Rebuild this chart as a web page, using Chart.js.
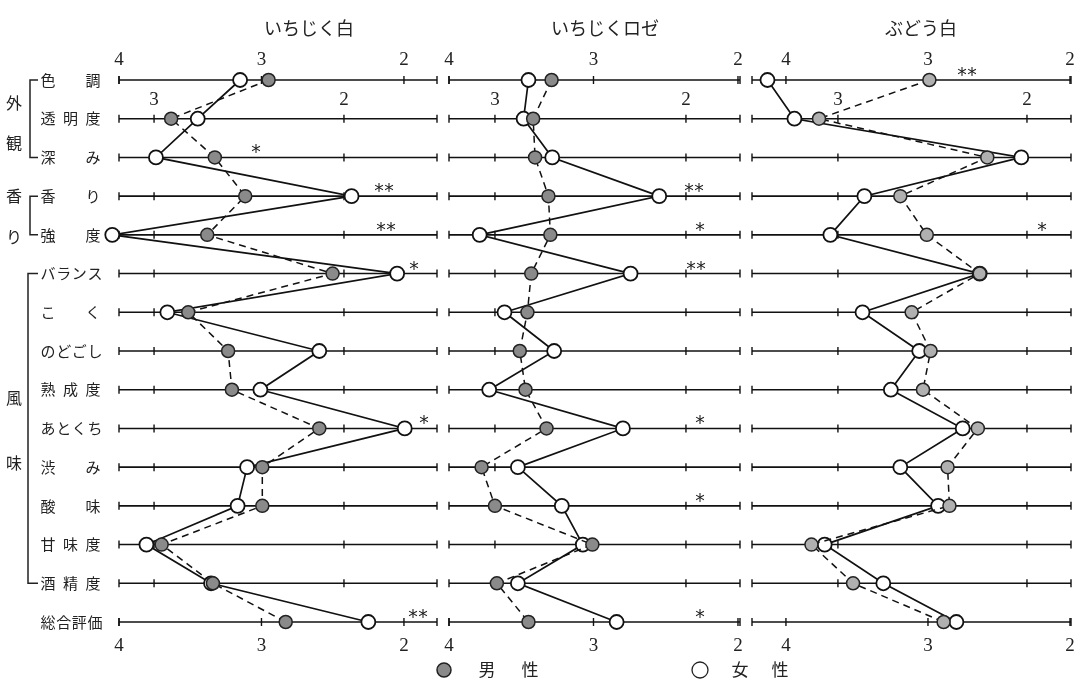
<!DOCTYPE html>
<html>
<head>
<meta charset="utf-8">
<script src="https://cdn.jsdelivr.net/npm/chart.js@4"></script>
<style>
body{margin:0;background:#fff;}
#wrap{position:relative;width:1083px;height:686px;}
#wrap canvas{position:absolute;left:0;top:0;}
</style>
</head>
<body>
<div id="wrap">
<canvas id="c0" width="1083" height="686"></canvas>
<canvas id="c1" width="1083" height="686"></canvas>
<canvas id="c2" width="1083" height="686"></canvas>
</div>
<script>
// 評価項目
var rowLabels = ['色調','透明度','深み','香り','強度','バランス','こく','のどごし','熟成度','あとくち','渋み','酸味','甘味度','酒精度','総合評価'];
var wines = ['いちじく白','いちじくロゼ','ぶどう白'];

// 1行目と最終行は外側の目盛(4〜2)、その他の行は内側の目盛(3〜2)で読んだ値
var male1   = [2.95, 2.91, 2.68, 2.52, 2.72, 2.06, 2.82, 2.61, 2.59, 2.13, 2.43, 2.43, 2.96, 2.69, 2.83];
var female1 = [3.15, 2.77, 2.99, 1.96, 3.22, 1.72, 2.93, 2.13, 2.44, 1.68, 2.51, 2.56, 3.04, 2.70, 2.25];
var male2   = [3.29, 2.80, 2.79, 2.72, 2.71, 2.81, 2.83, 2.87, 2.84, 2.73, 3.07, 3.00, 2.49, 2.99, 3.45];
var female2 = [3.45, 2.85, 2.70, 2.14, 3.08, 2.29, 2.95, 2.69, 3.03, 2.33, 2.88, 2.65, 2.54, 2.88, 2.84];
var male3   = [2.99, 3.10, 2.21, 2.67, 2.53, 2.25, 2.61, 2.51, 2.55, 2.26, 2.42, 2.41, 3.14, 2.92, 2.89];
var female3 = [4.13, 3.23, 2.03, 2.86, 3.04, 2.25, 2.87, 2.57, 2.72, 2.34, 2.67, 2.47, 3.07, 2.76, 2.80];

// 有意差
var signif1 = ['', '', '*', '**', '**', '*', '', '', '', '*', '', '', '', '', '**'];
var signif2 = ['', '', '', '**', '*', '**', '', '', '', '*', '', '*', '', '', '*'];
var signif3 = ['**', '', '', '', '*', '', '', '', '', '', '', '', '', '', ''];

var outerTicks = [4, 3, 2];
var innerTicks = [3, 2];

// パネルの配置 (x軸は外側目盛の単位)
var panels = [
	{ left: 119, right: 437, xMax: 4, xMin: 1.768, inner: [3.754, 2.421], titleX: 309,
	  male: male1, female: female1, signif: signif1, maleColor: '#8a8a8a',
	  starX: [0, 0, 256, 384, 386, 414, 0, 0, 0, 424, 0, 0, 0, 0, 418] },
	{ left: 449, right: 740, xMax: 4, xMin: 1.986, inner: [3.682, 2.360], titleX: 605,
	  male: male2, female: female2, signif: signif2, maleColor: '#8a8a8a',
	  starX: [0, 0, 0, 694, 700, 696, 0, 0, 0, 700, 0, 700, 0, 0, 700] },
	{ left: 752, right: 1071, xMax: 4.239, xMin: 1.993, inner: [3.634, 2.303], titleX: 921,
	  male: male3, female: female3, signif: signif3, maleColor: '#b0b0b0',
	  starX: [967, 0, 0, 0, 1042, 0, 0, 0, 0, 0, 0, 0, 0, 0, 0] }
];

var groups = [
	{ chars: ['外','観'], from: 0, to: 2, ys: [0.6, 1.63], lineX: 30 },
	{ chars: ['香','り'], from: 3, to: 4, ys: [3.0, 4.05], lineX: 30 },
	{ chars: ['風','味'], from: 5, to: 13, ys: [8.2, 9.9], lineX: 28 }
];

var numFont = '19px "Liberation Serif", "DejaVu Serif", serif';
var jpFont = '"Noto Sans CJK JP", sans-serif';

// 行ごとの目盛から x軸の値へ
function toAxis(p, row, v) {
	if (row === 0 || row === rowLabels.length - 1) return v;
	return p.inner[0] + (3 - v) * (p.inner[1] - p.inner[0]);
}

function points(p, arr) {
	return arr.map(function(v, i) { return { x: toAxis(p, i, v), y: i }; });
}

function drawSpread(ctx, text, x0, x1, y) {
	var chars = text.split('');
	for (var i = 0; i < chars.length; i++) {
		var x = chars.length === 1 ? (x0 + x1) / 2 : x0 + (x1 - x0) * i / (chars.length - 1);
		ctx.fillText(chars[i], x, y);
	}
}

function makeDeco(pi) {
	var p = panels[pi];
	return {
		id: 'deco' + pi,
		beforeDatasetsDraw: function(chart) {
			var ctx = chart.ctx, xs = chart.scales.x, ys = chart.scales.y, a = chart.chartArea;
			ctx.save();
			ctx.strokeStyle = '#111';
			for (var r = 0; r < rowLabels.length; r++) {
				var y = ys.getPixelForValue(r);
				ctx.lineWidth = 1.6;
				ctx.beginPath();
				ctx.moveTo(a.left, y);
				ctx.lineTo(a.right, y);
				ctx.stroke();
				ctx.lineWidth = 1.4;
				var tx = [a.left, a.right];
				var outer = (r === 0 || r === rowLabels.length - 1);
				(outer ? outerTicks : innerTicks).forEach(function(t) {
					tx.push(xs.getPixelForValue(toAxis(p, r, t)));
				});
				tx.forEach(function(x) {
					ctx.beginPath();
					ctx.moveTo(x, y - 4);
					ctx.lineTo(x, y + 4);
					ctx.stroke();
				});
			}
			ctx.restore();
		},
		afterDatasetsDraw: function(chart) {
			var ctx = chart.ctx, xs = chart.scales.x, ys = chart.scales.y;
			var last = rowLabels.length - 1;
			ctx.save();
			ctx.fillStyle = '#222';
			ctx.textAlign = 'center';
			ctx.textBaseline = 'middle';

			// 目盛ラベル
			ctx.font = numFont;
			outerTicks.forEach(function(t) {
				var x = xs.getPixelForValue(t);
				ctx.fillText(String(t), x, ys.getPixelForValue(0) - 20);
				ctx.fillText(String(t), x, ys.getPixelForValue(last) + 24);
			});
			innerTicks.forEach(function(t) {
				ctx.fillText(String(t), xs.getPixelForValue(toAxis(p, 1, t)), ys.getPixelForValue(1) - 19);
			});

			// 有意差の印
			ctx.font = '19px "DejaVu Sans", sans-serif';
			p.signif.forEach(function(s, r) {
				if (!s) return;
				var y = ys.getPixelForValue(r) - 4;
				for (var k = 0; k < s.length; k++) {
					ctx.fillText('*', p.starX[r] + (k - (s.length - 1) / 2) * 10, y);
				}
			});

			// 表題
			ctx.font = '18px ' + jpFont;
			ctx.fillText(wines[pi], p.titleX, 28);

			if (pi === 0) {
				// 項目名
				ctx.font = '15px ' + jpFont;
				rowLabels.forEach(function(lab, r) {
					var n = lab.length;
					drawSpread(ctx, lab, 48, n > 3 ? 95 : 93, ys.getPixelForValue(r));
				});
				// 区分
				ctx.font = '16px ' + jpFont;
				ctx.strokeStyle = '#222';
				ctx.lineWidth = 1.5;
				groups.forEach(function(g) {
					var y0 = ys.getPixelForValue(g.from), y1 = ys.getPixelForValue(g.to);
					ctx.beginPath();
					ctx.moveTo(38, y0); ctx.lineTo(g.lineX, y0);
					ctx.lineTo(g.lineX, y1); ctx.lineTo(38, y1);
					ctx.stroke();
					g.chars.forEach(function(c, k) {
						ctx.fillText(c, 14, ys.getPixelForValue(g.ys[k]));
					});
				});
				// 凡例
				var ly = 670;
				ctx.beginPath();
				ctx.arc(444, ly, 7, 0, Math.PI * 2);
				ctx.fillStyle = '#8a8a8a';
				ctx.fill();
				ctx.strokeStyle = '#222';
				ctx.lineWidth = 1.5;
				ctx.stroke();
				ctx.beginPath();
				ctx.arc(700, ly, 8, 0, Math.PI * 2);
				ctx.fillStyle = '#fff';
				ctx.fill();
				ctx.lineWidth = 1.3;
				ctx.stroke();
				ctx.fillStyle = '#222';
				ctx.font = '17px ' + jpFont;
				drawSpread(ctx, '男性', 487, 530, ly);
				drawSpread(ctx, '女性', 740, 780, ly);
			}
			ctx.restore();
		}
	};
}

panels.forEach(function(p, pi) {
	var ctx = document.getElementById('c' + pi).getContext('2d');
	new Chart(ctx, {
		type: 'scatter',
		data: {
			datasets: [{
				label: '男性',
				data: points(p, p.male),
				showLine: true,
				clip: false,
				borderColor: '#111',
				borderWidth: 1.5,
				borderDash: [7, 5],
				pointRadius: 6.5,
				pointBackgroundColor: p.maleColor,
				pointBorderColor: '#222',
				pointBorderWidth: 1.5
			}, {
				label: '女性',
				data: points(p, p.female),
				showLine: true,
				clip: false,
				borderColor: '#111',
				borderWidth: 1.7,
				pointRadius: 7,
				pointBackgroundColor: '#fff',
				pointBorderColor: '#111',
				pointBorderWidth: 1.8
			}]
		},
		options: {
			responsive: false,
			animation: false,
			devicePixelRatio: 1,
			events: [],
			layout: { padding: { left: p.left, right: 1083 - p.right, top: 80, bottom: 64 } },
			scales: {
				x: { type: 'linear', reverse: true, min: p.xMin, max: p.xMax, display: false },
				y: { type: 'linear', reverse: true, min: 0, max: 14, display: false }
			},
			plugins: { legend: { display: false }, tooltip: { enabled: false } }
		},
		plugins: [makeDeco(pi)]
	});
});
</script>
</body>
</html>
